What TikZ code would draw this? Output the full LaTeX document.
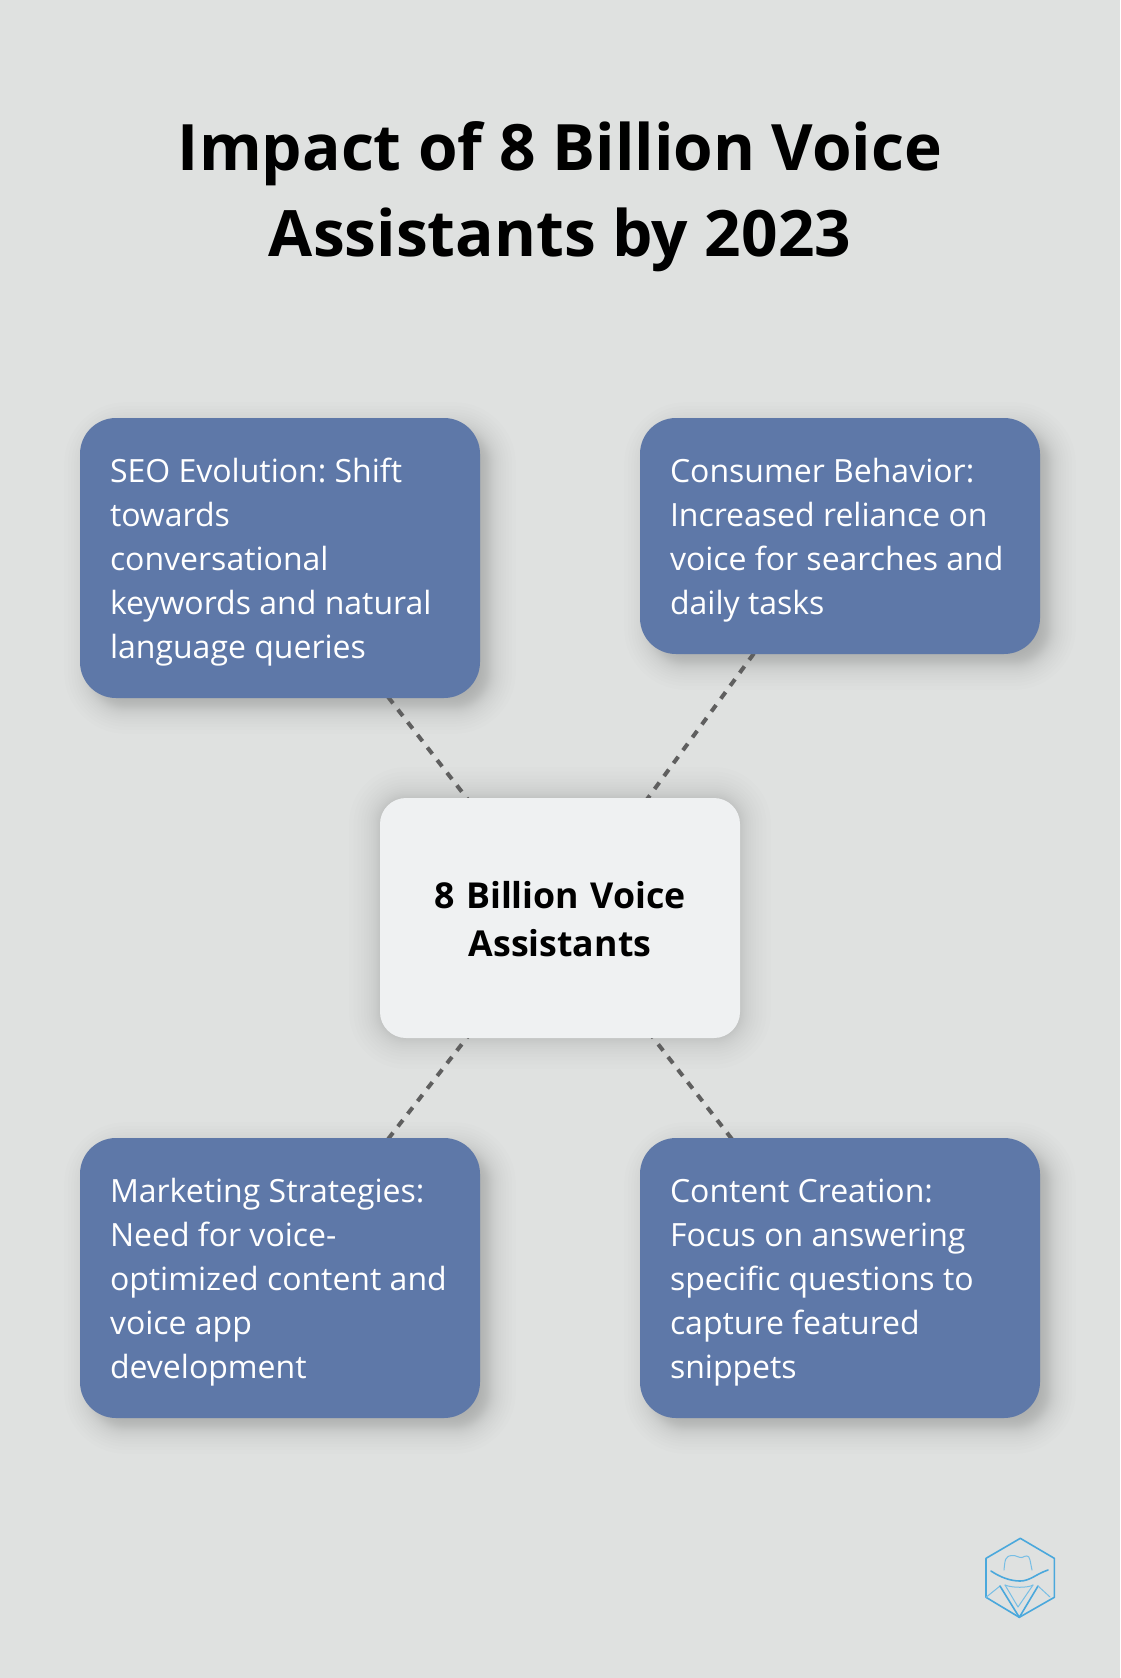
\documentclass[tikz,border=0pt]{standalone}
\usepackage{fontspec}
\setmainfont{Open Sans}
\definecolor{pagebg}{HTML}{DFE1E0}
\definecolor{bluebox}{HTML}{5E78A8}
\definecolor{centerbox}{HTML}{EFF1F2}
\definecolor{dashgrey}{HTML}{5F5F5F}
\definecolor{logoblue}{HTML}{4AA8DC}
\newcommand{\sidefont}{\fontsize{32}{44}\selectfont\frenchspacing}
\newcommand{\midfont}{\fontsize{35.7}{48}\selectfont\bfseries\frenchspacing}
\newcommand{\sidetop}{\spaceskip=0pt\relax\leavevmode\vrule width 0pt height 37.6pt depth 13.2pt\relax}
\newcommand{\sidebot}{\leavevmode\vrule width 0pt height 30.8pt depth 13.2pt\relax}
\newcommand{\midtop}{\spaceskip=0pt\relax\leavevmode\vrule width 0pt height 43.2pt depth 14.4pt\relax}
\newcommand{\midbot}{\leavevmode\vrule width 0pt height 33.6pt depth 14.4pt\relax}
\tikzset{
  sidebox/.style={rectangle,rounded corners=36pt,fill=bluebox,text=white,minimum width=400pt,inner sep=0pt,text width=340pt,align=left,font=\sidefont},
  midbox/.style={rectangle,rounded corners=26pt,fill=centerbox,text=black,minimum width=360pt,minimum height=240pt,inner sep=0pt,text width=320pt,align=center,font=\midfont},
  titletext/.style={text=black,align=center,font=\fontsize{64}{86}\selectfont\bfseries\frenchspacing,inner sep=0pt},
  link/.style={draw=dashgrey,line width=4pt,dash pattern=on 8pt off 8pt},
  logoline/.style={draw=logoblue,line width=1.6pt,line join=round,line cap=round},
  logothin/.style={draw=logoblue!75,line width=1pt,line join=round,line cap=round},
}
\newcommand{\softshadow}[7]{%
  % x0 y0 x1 y1 radius spread opacity
  \foreach \k in {1,...,30}{
    \pgfmathsetmacro{\uu}{1-\k/15}
    \pgfmathsetmacro{\spr}{#6*(0.4*\uu+0.6*\uu*\uu*\uu)}
    \pgfmathsetmacro{\rad}{max(#5+\spr,1)}
    \fill[black,opacity=#7,rounded corners=\rad pt] (#1-\spr,#2-\spr) rectangle (#3+\spr,#4+\spr);
  }}
\begin{document}
\begin{tikzpicture}[x=1pt,y=-1pt]
\useasboundingbox (0,0) rectangle (1120,1678);
\fill[pagebg] (0,0) rectangle (1120,1678);

\softshadow{90}{428}{490}{708}{36}{30}{0.0095}
\softshadow{650}{428}{1050}{664}{36}{30}{0.0095}
\softshadow{90}{1148}{490}{1428}{36}{30}{0.0095}
\softshadow{650}{1148}{1050}{1428}{36}{30}{0.0095}
\softshadow{380}{798}{740}{1038}{26}{36}{0.0085}

\coordinate (cSEO) at (280,558);
\coordinate (cCON) at (840,536);
\coordinate (cMAR) at (280,1278);
\coordinate (cCRE) at (840,1278);
\coordinate (cMID) at (560,918);

\draw[link] (cMID) -- (cSEO);
\draw[link] (cMID) -- (cCON);
\draw[link] (cMID) -- (cMAR);
\draw[link] (cMID) -- (cCRE);

\node[titletext] (title) at (560,196.5) {Impact of 8 Billion Voice\\Assistants by 2023};

\node[sidebox,minimum height=280pt] (seo) at (cSEO) {\sidetop SEO Evolution: Shift\\towards\\conversational\\keywords and natural\\language queries\sidebot};
\node[sidebox,minimum height=236pt] (consumer) at (cCON) {\sidetop Consumer Behavior:\\Increased reliance on\\voice for searches and\\daily tasks\sidebot};
\node[sidebox,minimum height=280pt] (marketing) at (cMAR) {\sidetop Marketing Strategies:\\Need for voice-\\optimized content and\\voice app\\development\sidebot};
\node[sidebox,minimum height=280pt] (content) at (cCRE) {\sidetop Content Creation:\\Focus on answering\\specific questions to\\capture featured\\snippets\sidebot};
\node[midbox] (mid) at (cMID) {\midtop 8 Billion Voice\\Assistants\midbot};

% logo
\draw[logoline] (1020.3,1538.3) -- (1054.3,1558.3) -- (1054.3,1597.3) -- (1019.3,1617.3) -- (986,1597.3) -- (986,1558.3) -- cycle;
\draw[logothin] (1004,1570) .. controls (1005,1560) and (1005,1556) .. (1012,1555.5) .. controls (1016,1555) and (1019,1558) .. (1022,1557.5) .. controls (1025,1556) and (1029,1554) .. (1030,1560) -- (1032,1570);
\draw[logoline] (1048,1570) .. controls (1036,1574) and (1030,1581) .. (1020,1581) .. controls (1010,1581) and (1000,1577) .. (991,1571);
\draw[logothin] (1005,1585) .. controls (1012,1588) and (1028,1588) .. (1033,1585);
\draw[logothin] (1005,1585) -- (1018,1607) -- (1033,1585);
\draw[logothin] (986,1597.3) -- (1000,1586);
\draw[logoline] (1000,1586) -- (1019.3,1617.3) -- (1038,1586);
\draw[logothin] (1038,1586) -- (1050,1597);
\end{tikzpicture}
\end{document}
